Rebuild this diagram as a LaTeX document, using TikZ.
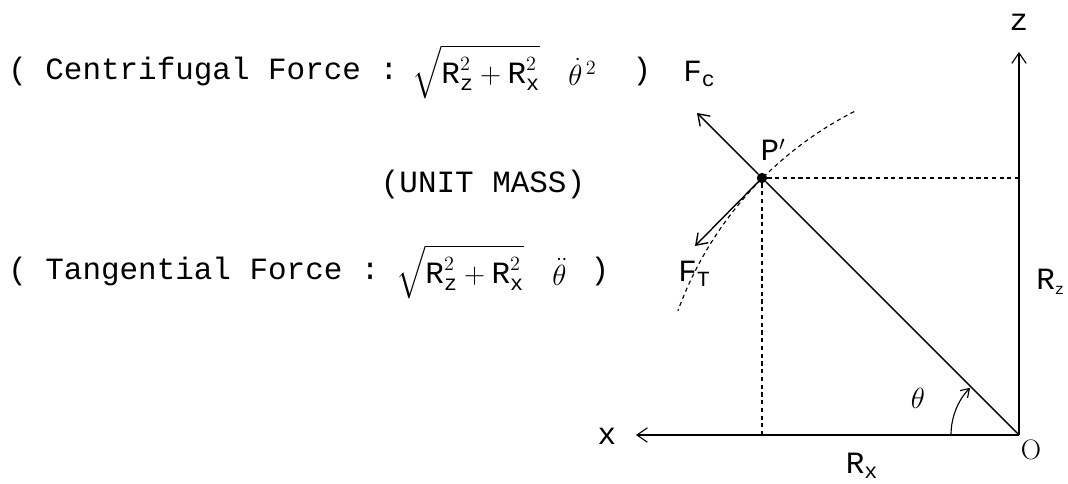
\documentclass[tikz,border=0pt]{standalone}
\usepackage{amsmath}
\usepackage{fontspec}
\usetikzlibrary{arrows.meta}
\newfontfamily\plotfont{Liberation Mono}

\begin{document}
\begin{tikzpicture}[x=0.025cm, y=-0.025cm,
    axisline/.style={line width=0.8pt, -{Straight Barb[length=2.6mm,width=3.6mm]}},
    forcearrow/.style={line width=1pt, -{Straight Barb[length=2.6mm,width=3.6mm]}},
    guideline/.style={line width=0.8pt, dash pattern=on 3pt off 2.5pt},
    plottext/.style={font=\plotfont\fontsize{22}{26}\selectfont, inner sep=0pt},
    pointdot/.style={circle, fill=black, minimum size=2.6mm, inner sep=0pt}
]
\useasboundingbox (0,0) rectangle (1068,484);

% axes and the point
\coordinate (O) at (1019,435);
\coordinate (ztip) at (1019,52);
\coordinate (xtip) at (636,435);
\node[pointdot] (P) at (762,178) {};
\coordinate (Pz) at (1019,178);
\coordinate (Px) at (762,435);
\coordinate (Fc) at (697,113);
\coordinate (Ft) at (695,246);

\draw[axisline] (O) -- (ztip);
\draw[axisline] (O) -- (xtip);
\draw[line width=1pt] (O) -- (P);
\draw[guideline] (P) -- (Pz);
\draw[guideline] (P) -- (Px);
\draw[guideline] (O) ++(243:363) arc[start angle=243, end angle=200, radius=363];
\draw[forcearrow] (P) -- (Fc);
\draw[forcearrow] (P) -- (Ft);
\draw[line width=0.8pt, -{Straight Barb[length=2mm,width=2.6mm]}] (O) ++(180:68) arc[start angle=180, end angle=224, radius=68];

\node[plottext] (zlabel) at (1019,22) {z};
\node[plottext] (xlabel) at (607,436) {x};
\node[font=\fontsize{20}{24}\selectfont] (olabel) at (1031,450) {O};
\node[plottext, anchor=west] (rzlabel) at (1036,282) {R$_{\scriptscriptstyle\text{z}}$};
\node[plottext] (rxlabel) at (862,466) {R$_{\text{x}}$};
\node[font=\fontsize{20}{24}\selectfont] (thlabel) at (918,398) {$\theta$};
\node[plottext] (plabel) at (773,150) {P$'$};

% centrifugal line
\node[plottext, anchor=west] (cfname) at (8,72) {( Centrifugal Force :};
\node[plottext, anchor=west] (cfroot) at (412,72) {$\sqrt{\text{R}_{\text{z}}^{2}+\text{R}_{\text{x}}^{2}}$};
\node[plottext, anchor=west] (cfrate) at (568,72) {$\dot{\theta}^{\,2}$};
\node[plottext] (cfclose) at (642,72) {)};
\node[plottext, anchor=west] (cflabel) at (683,74) {F$_{\text{c}}$};

\node[plottext] (mass) at (483,185) {(UNIT MASS)};

% tangential line
\node[plottext, anchor=west] (tgroot) at (396,272) {$\sqrt{\text{R}_{\text{z}}^{2}+\text{R}_{\text{x}}^{2}}$};
\node[plottext, anchor=west] (tgname) at (8,272) {( Tangential Force :};
\node[plottext, anchor=west] (tgrate) at (552,272) {$\ddot{\theta}$};
\node[plottext] (tgclose) at (600,272) {)};
\node[plottext, anchor=west] (tglabel) at (678,274) {F$_{\text{T}}$};
\end{tikzpicture}
\end{document}
